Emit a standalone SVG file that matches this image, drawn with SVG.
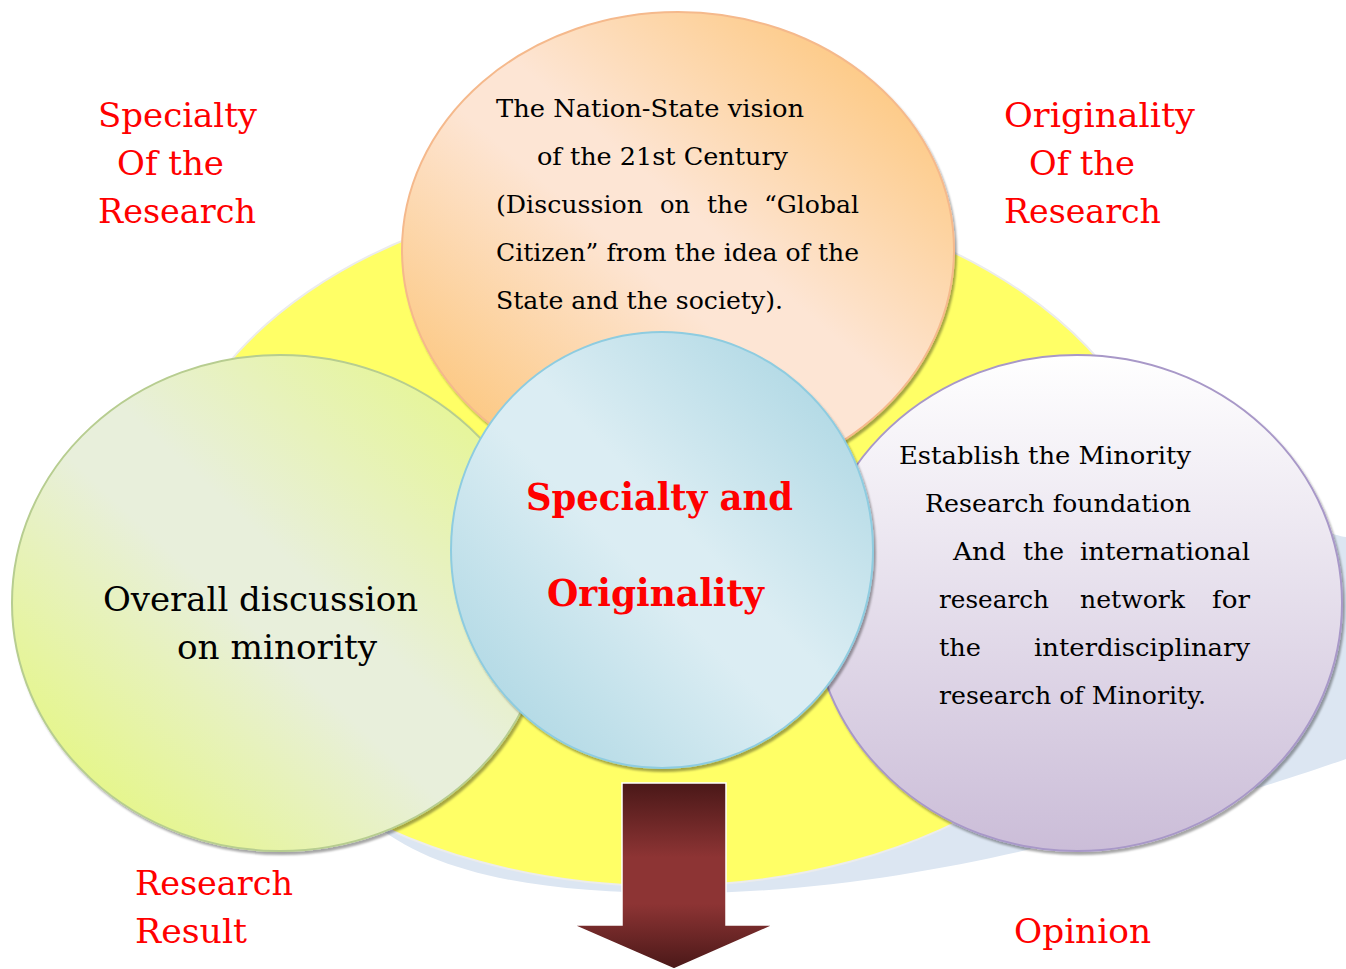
<svg xmlns="http://www.w3.org/2000/svg" width="1346" height="969" viewBox="0 0 1346 969">
<defs>
<linearGradient id="gOrange" x1="0" y1="1" x2="1" y2="0">
<stop offset="0" stop-color="#fcbd62"/><stop offset="0.45" stop-color="#fde5d4"/><stop offset="0.55" stop-color="#fde5d4"/><stop offset="1" stop-color="#fdbf66"/>
</linearGradient>
<linearGradient id="gGreen" x1="0" y1="1" x2="1" y2="0">
<stop offset="0" stop-color="#e4f968"/><stop offset="0.45" stop-color="#e8efdb"/><stop offset="0.55" stop-color="#e8efdb"/><stop offset="1" stop-color="#e5f87c"/>
</linearGradient>
<linearGradient id="gBlue" x1="0" y1="1" x2="1" y2="0">
<stop offset="0" stop-color="#a3d2e0"/><stop offset="0.45" stop-color="#dbedf3"/><stop offset="0.55" stop-color="#dbedf3"/><stop offset="1" stop-color="#a3d2e0"/>
</linearGradient>
<linearGradient id="gPurple" x1="0" y1="0" x2="0" y2="1">
<stop offset="0" stop-color="#ffffff"/><stop offset="1" stop-color="#cbbdd8"/>
</linearGradient>
<linearGradient id="gArrow" x1="0" y1="0" x2="0" y2="1">
<stop offset="0" stop-color="#4a1818"/><stop offset="0.4" stop-color="#8d3434"/><stop offset="0.65" stop-color="#8d3434"/><stop offset="1" stop-color="#4a1818"/>
</linearGradient>
<filter id="sh" x="-10%" y="-10%" width="120%" height="120%">
<feDropShadow dx="2" dy="3" stdDeviation="1.2" flood-color="#000" flood-opacity="0.35"/>
</filter>
</defs>
<style>
text{font-family:"DejaVu Serif","Liberation Serif",serif;}
.t{font-size:25px;fill:#000;}
.tl{font-size:33px;fill:#000;}
.red{font-size:34px;fill:#ff0000;}
.ctr{font-size:38px;font-weight:bold;fill:#ff0000;}
</style>

<g id="background">
<path d="M 370 820 C 430 874, 540 894, 690 893 C 850 892, 1000 858, 1100 832 C 1200 808, 1300 775, 1346 759 L 1346 537 C 1320 534, 1200 480, 1100 420 L 700 400 Z" fill="#dce6f2"/>
<ellipse cx="665" cy="538" rx="505" ry="348" fill="#ffff66" stroke="#ececec" stroke-width="2"/>
</g>

<g id="node-top">
<ellipse cx="678" cy="250" rx="276" ry="238" fill="url(#gOrange)" stroke="#f5b98c" stroke-width="2" filter="url(#sh)"/>
<text class="t" x="496" y="117" textLength="308" lengthAdjust="spacingAndGlyphs">The Nation-State vision</text>
<text class="t" x="537" y="165" textLength="251" lengthAdjust="spacingAndGlyphs">of the 21st Century</text>
<text class="t" x="496" y="213" textLength="147" lengthAdjust="spacingAndGlyphs">(Discussion</text>
<text class="t" x="660" y="213" textLength="30" lengthAdjust="spacingAndGlyphs">on</text>
<text class="t" x="707" y="213" textLength="41" lengthAdjust="spacingAndGlyphs">the</text>
<text class="t" x="764" y="213" textLength="95" lengthAdjust="spacingAndGlyphs">“Global</text>
<text class="t" x="496" y="261" textLength="363" lengthAdjust="spacingAndGlyphs">Citizen” from the idea of the</text>
<text class="t" x="496" y="309" textLength="287" lengthAdjust="spacingAndGlyphs">State and the society).</text>
</g>

<g id="node-left">
<ellipse cx="280" cy="603" rx="268" ry="248" fill="url(#gGreen)" stroke="#b7cd90" stroke-width="2" filter="url(#sh)"/>
<text class="tl" x="103" y="611" textLength="315" lengthAdjust="spacingAndGlyphs">Overall discussion</text>
<text class="tl" x="177" y="659" textLength="200" lengthAdjust="spacingAndGlyphs">on minority</text>
</g>

<g id="node-right">
<ellipse cx="1077" cy="603" rx="265" ry="248" fill="url(#gPurple)" stroke="#a898c8" stroke-width="2" filter="url(#sh)"/>
<text class="t" x="899" y="464" textLength="292" lengthAdjust="spacingAndGlyphs">Establish the Minority</text>
<text class="t" x="925" y="512" textLength="266" lengthAdjust="spacingAndGlyphs">Research foundation</text>
<text class="t" x="953" y="560" textLength="53" lengthAdjust="spacingAndGlyphs">And</text>
<text class="t" x="1023" y="560" textLength="41" lengthAdjust="spacingAndGlyphs">the</text>
<text class="t" x="1080" y="560" textLength="170" lengthAdjust="spacingAndGlyphs">international</text>
<text class="t" x="939" y="608" textLength="110" lengthAdjust="spacingAndGlyphs">research</text>
<text class="t" x="1080" y="608" textLength="105" lengthAdjust="spacingAndGlyphs">network</text>
<text class="t" x="1212" y="608" textLength="38" lengthAdjust="spacingAndGlyphs">for</text>
<text class="t" x="939" y="656" textLength="42" lengthAdjust="spacingAndGlyphs">the</text>
<text class="t" x="1034" y="656" textLength="216" lengthAdjust="spacingAndGlyphs">interdisciplinary</text>
<text class="t" x="939" y="704" textLength="267" lengthAdjust="spacingAndGlyphs">research of Minority.</text>
</g>

<g id="node-center">
<ellipse cx="662" cy="550" rx="211" ry="218" fill="url(#gBlue)" stroke="#8ecce0" stroke-width="2" filter="url(#sh)"/>
<text class="ctr" x="526" y="510" textLength="267" lengthAdjust="spacingAndGlyphs">Specialty and</text>
<text class="ctr" x="547" y="606" textLength="217" lengthAdjust="spacingAndGlyphs">Originality</text>
</g>

<g id="label-specialty">
<text class="red" x="98" y="127" textLength="159" lengthAdjust="spacingAndGlyphs">Specialty</text>
<text class="red" x="117" y="175" textLength="107" lengthAdjust="spacingAndGlyphs">Of the</text>
<text class="red" x="98" y="223" textLength="158" lengthAdjust="spacingAndGlyphs">Research</text>
</g>
<g id="label-originality">
<text class="red" x="1004" y="127" textLength="191" lengthAdjust="spacingAndGlyphs">Originality</text>
<text class="red" x="1029" y="175" textLength="106" lengthAdjust="spacingAndGlyphs">Of the</text>
<text class="red" x="1004" y="223" textLength="157" lengthAdjust="spacingAndGlyphs">Research</text>
</g>
<g id="label-result">
<text class="red" x="135" y="895" textLength="158" lengthAdjust="spacingAndGlyphs">Research</text>
<text class="red" x="135" y="943" textLength="112" lengthAdjust="spacingAndGlyphs">Result</text>
</g>
<g id="label-opinion">
<text class="red" x="1014" y="943" textLength="137" lengthAdjust="spacingAndGlyphs">Opinion</text>
</g>

<g id="connectors">
<path d="M 622 783 L 726 783 L 726 925 L 774 925 L 674 969 L 573 925 L 622 925 Z" fill="url(#gArrow)" stroke="#ffffff" stroke-width="1.5"/>
</g>
</svg>
